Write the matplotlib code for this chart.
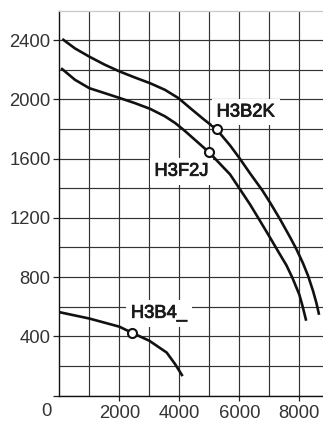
import matplotlib
matplotlib.use("Agg")
import matplotlib.pyplot as plt
import matplotlib.patheffects as pe

plt.rcParams['font.family'] = ['Liberation Sans', 'DejaVu Sans']

# curve readings (x, y)
h3b2k_x = [100, 520, 1000, 1520, 2020, 2520, 3020, 3520, 3970, 4360, 4800, 5250,
           5690, 6000, 6360, 6770, 7020, 7360, 7690, 7900, 8120, 8290, 8460, 8570, 8660]
h3b2k_y = [2408, 2345, 2289, 2234, 2188, 2148, 2110, 2065, 2009, 1942, 1868, 1796,
           1690, 1605, 1500, 1385, 1305, 1190, 1070, 990, 895, 810, 705, 625, 545]

h3f2j_x = [60, 520, 1000, 1520, 2020, 2520, 3020, 3520, 3860, 4170, 4980, 5690,
           6000, 6360, 6630, 7000, 7290, 7570, 7770, 8000, 8100, 8230]
h3f2j_y = [2211, 2133, 2076, 2042, 2009, 1975, 1937, 1886, 1841, 1790, 1645, 1494,
           1400, 1290, 1200, 1075, 975, 880, 795, 682, 610, 505]

h3b4_x = [0, 1000, 2000, 2410, 3000, 3580, 3860, 4110]
h3b4_y = [563, 520, 465, 425, 370, 290, 212, 131]

# marked points and labels
markers = [(5250, 1800), (4980, 1645), (2410, 425)]
labels = ["H3B2K", "H3F2J", "H3B4_"]
label_pos = [(6210, 1915), (4070, 1515), (3320, 555)]

x_major = [2000, 4000, 6000, 8000]
x_minor = [1000, 3000, 5000, 7000]
y_major = [0, 400, 800, 1200, 1600, 2000, 2400]
y_minor = [200, 600, 1000, 1400, 1800, 2200]

fig = plt.figure(figsize=(3.23, 4.21), dpi=100)
ax = fig.add_axes([59.3 / 323, 25.5 / 421, (323 - 59.3) / 323, 384.9 / 421])

ax.set_xlim(0, 8790)
ax.set_ylim(0, 2600)

ax.set_xticks(x_major)
ax.set_xticks(x_minor, minor=True)
ax.set_yticks(y_major)
ax.set_yticks(y_minor, minor=True)
ax.set_yticklabels([""] + [str(v) for v in y_major[1:]])
ax.tick_params(axis='x', which='major', length=3.6, width=0.9, color='#222222',
               labelsize=13.3, labelcolor='#333333', pad=3)
ax.tick_params(axis='y', which='major', length=4.3, width=0.9, color='#222222',
               labelsize=13.3, labelcolor='#333333', pad=2)
ax.tick_params(which='minor', length=0)

ax.grid(True, which='both', color='#333333', linewidth=0.85, zorder=0)
ax.set_axisbelow(True)

for s in ['left', 'bottom']:
    ax.spines[s].set_color('#111111')
    ax.spines[s].set_linewidth(1.0)
ax.spines['right'].set_visible(False)
ax.spines['top'].set_color('#c8c8c8')
ax.spines['top'].set_linewidth(0.9)

ax.annotate('0', xy=(0, 0), xytext=(-13, -16), textcoords='offset pixels',
            ha='center', va='center', fontsize=13.3, color='#333333',
            annotation_clip=False)

for xs, ys in [(h3b2k_x, h3b2k_y), (h3f2j_x, h3f2j_y), (h3b4_x, h3b4_y)]:
    ax.plot(xs, ys, color='#111111', linewidth=1.9, solid_capstyle='butt',
            solid_joinstyle='round', zorder=3)

for (mx, my), txt, (lx, ly) in zip(markers, labels, label_pos):
    ax.text(lx, ly, txt, ha='center', va='center', fontsize=13.2,
            color='#1a1a1a', zorder=4,
            path_effects=[pe.withStroke(linewidth=0.6, foreground='#1a1a1a')],
            bbox=dict(facecolor='white', edgecolor='none', pad=3.5))
    ax.plot(mx, my, 'o', markersize=6.5, markerfacecolor='white',
            markeredgecolor='#111111', markeredgewidth=1.5, zorder=5)

fig.savefig('out.png', dpi=100)
